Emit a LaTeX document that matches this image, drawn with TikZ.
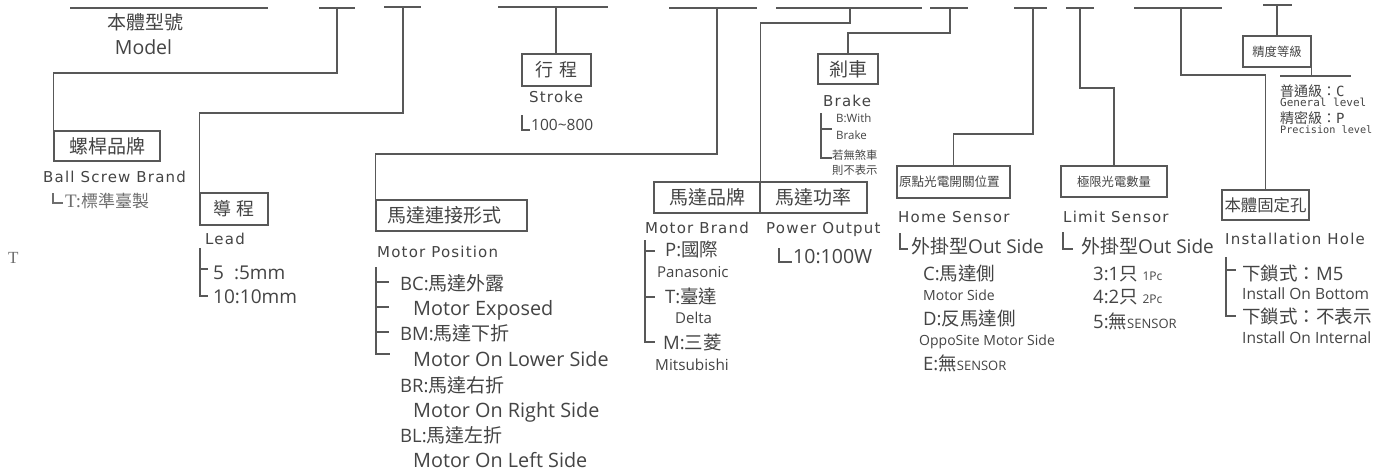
\documentclass[tikz,border=0pt]{standalone}
\usepackage{fontspec}
\setmainfont{Open Sans}
\newfontfamily\cjk{Noto Sans CJK TC}
\newfontfamily\iso[LetterSpace=8]{DejaVu Sans}
\newfontfamily\mono{DejaVu Sans Mono}
\newfontfamily\ser{Liberation Serif}
\newcommand\fs[1]{\fontsize{#1}{#1}\selectfont}
\definecolor{txt}{HTML}{444444}
\definecolor{linec}{HTML}{585858}
\definecolor{lt}{HTML}{6E6E6E}
\begin{document}
\begin{tikzpicture}[x=1pt,y=-1pt,
  ln/.style={draw=linec,line width=1.3pt},
  box/.style={draw=linec,line width=1.3pt,inner sep=0pt,text=txt},
  lbl/.style={inner sep=0pt,anchor=base west,text=txt},
  ctr/.style={inner sep=0pt,anchor=base,text=txt}]
\fill[white] (0,0) rectangle (1386,471);
\useasboundingbox (0,0) rectangle (1386,471);

% ---------- top code line segments ----------
\coordinate (m1) at (70,8);   \coordinate (m2) at (268,8);
\coordinate (a1) at (319,8);  \coordinate (a2) at (355,8);  \coordinate (a0) at (337,8);  \coordinate (ak) at (337,73);
\coordinate (b1) at (384,7);  \coordinate (b2) at (421,7);  \coordinate (b0) at (403,7);  \coordinate (bk) at (403,113);
\coordinate (c1) at (498,7);  \coordinate (c2) at (608,7);  \coordinate (c0) at (556,7);
\coordinate (d1) at (669,8);  \coordinate (d2) at (757,8);  \coordinate (d0) at (717,8);  \coordinate (dk) at (717,154);
\coordinate (e1) at (776,8);  \coordinate (e2) at (922,8);  \coordinate (e0) at (850,8);  \coordinate (ek) at (850,23);
\coordinate (f1) at (930,8);  \coordinate (f2) at (968,8);  \coordinate (f0) at (950,8);  \coordinate (fk) at (950,33);
\coordinate (g1) at (1014,8); \coordinate (g2) at (1047,8); \coordinate (g0) at (1033,8); \coordinate (gk) at (1033,134);
\coordinate (h1) at (1066,8); \coordinate (h2) at (1094,8); \coordinate (h0) at (1080,8); \coordinate (hk) at (1080,88);
\coordinate (i1) at (1134,8); \coordinate (i2) at (1222,8); \coordinate (i0) at (1181,8); \coordinate (ik) at (1181,75);
\coordinate (j1) at (1263,5); \coordinate (j2) at (1292,5); \coordinate (j0) at (1277,5);
\foreach \s in {m,a,b,c,d,e,f,g,h,i,j} \draw[ln] (\s1) -- (\s2);

% ---------- boxes ----------
\node[box,minimum width=106,minimum height=30] (bs) at (107,146) {\cjk\fs{19}螺桿品牌};
\node[box,minimum width=68,minimum height=32] (lead) at (234,209) {\cjk\fs{18}導\hspace{6pt}程};
\node[box,minimum width=69,minimum height=32] (stroke) at (556.5,70) {\cjk\fs{18}行\hspace{6pt}程};
\node[box,minimum width=151,minimum height=31,text width=129,align=left,inner xsep=11] (mpos) at (451.5,215.5) {\cjk\fs{19}馬達連接形式};
\node[box,minimum width=106,minimum height=31] (brand) at (707,197.5) {\cjk\fs{19}馬達品牌};
\node[box,minimum width=107,minimum height=31] (power) at (813.5,197.5) {\cjk\fs{19}馬達功率};
\node[box,minimum width=60,minimum height=30] (brake) at (848,69) {\cjk\fs{19}剎車};
\node[box,minimum width=113,minimum height=32,text width=109,align=left,inner xsep=2] (home) at (953.5,182) {\cjk\fs{12.6}原點光電開關位置};
\node[box,minimum width=106,minimum height=31] (limit) at (1114,181.5) {\cjk\fs{12.3}極限光電數量};
\node[box,minimum width=87,minimum height=30] (inst) at (1265.5,205) {\cjk\fs{16.4}本體固定孔};
\node[box,minimum width=68,minimum height=31] (prec) at (1277,51.5) {\cjk\fs{12.3}精度等級};

% ---------- connectors ----------
\draw[ln] (a0) -- (ak) -| (bs.north west);
\draw[ln] (b0) -- (bk) -| (lead.north west);
\draw[ln] (c0) -- (c0 |- stroke.north);
\draw[ln] (d0) -- (dk) -| (mpos.north west);
\draw[ln] (e0) -- (ek) -| (brand.north east);
\draw[ln] (f0) -- (fk) -| (brake.north);
\draw[ln] (g0) -- (gk) -| (home.north);
\draw[ln] (h0) -- (hk) -| (limit.north);
\draw[ln] (i0) -- (ik) -| (inst.north);
\draw[ln] (j0) -- (j0 |- prec.north);
\coordinate (pl1) at (1280,76); \coordinate (pl2) at (1351,76);
\draw[ln] (prec.south east) -- (prec.south east |- pl1);
\draw[ln] (pl1) -- (pl2);

% ---------- model ----------
\node[ctr] (mzh) at (145.5,29) {\cjk\fs{19}本體型號};
\node[ctr] (men) at (143.5,54) {\fs{19.5}Model};

% ---------- ball screw ----------
\node[lbl] (bsen) at (43,182) {\iso\fs{15}Ball Screw Brand};
\node[lbl,text=lt] (tstd) at (65,207) {\ser\fs{19}T:\cjk\fs{17}標準臺製};
\draw[ln,draw=lt] (53,193) -- (53,203) -- (63,203);
\node[lbl,text=lt] (tl) at (8,263) {\ser\fs{17}T};

% ---------- lead ----------
\node[lbl] (leaden) at (205,244) {\iso\fs{15}Lead};
\node[lbl] (l5) at (213,279) {\fs{19}5\hspace{10pt}:5mm};
\node[lbl] (l10) at (213,303) {\fs{19}10:10mm};
\draw[ln] (200,248) -- (200,296) -- (208,296);
\draw[ln] (200,269) -- (208,269);

% ---------- stroke ----------
\node[lbl] (stren) at (529,102) {\iso\fs{15}Stroke};
\node[lbl] (strv) at (531,130) {\fs{15.5}100\textasciitilde 800};
\draw[ln] (522,115) -- (522,130) -- (530,130);

% ---------- motor position ----------
\node[lbl] (mposen) at (377,257) {\iso\fs{15}Motor Position};
\draw[ln] (376,267) -- (376,354) -- (390,354);
\foreach \yy in {282,307,332} \draw[ln] (376,\yy) -- (389,\yy);
\node[lbl] (bc) at (400,290) {\fs{18.5}BC:\cjk\fs{19}馬達外露};
\node[lbl] (bce) at (413,315) {\fs{19.8}Motor Exposed};
\node[lbl] (bm) at (400,340) {\fs{18.5}BM:\cjk\fs{19}馬達下折};
\node[lbl] (bme) at (413,366) {\fs{19.8}Motor On Lower Side};
\node[lbl] (br) at (400,392) {\fs{18.5}BR:\cjk\fs{19}馬達右折};
\node[lbl] (bre) at (413,417) {\fs{19.8}Motor On Right Side};
\node[lbl] (bl) at (400,442) {\fs{18.5}BL:\cjk\fs{19}馬達左折};
\node[lbl] (ble) at (413,467) {\fs{19.8}Motor On Left Side};

% ---------- motor brand / power ----------
\node[lbl] (branden) at (645,233) {\iso\fs{15}Motor Brand};
\node[lbl] (poweren) at (766,233) {\iso\fs{15}Power Output};
\draw[ln] (645,240) -- (645,342) -- (655,342);
\draw[ln] (645,251) -- (655,251);
\draw[ln] (645,297) -- (655,297);
\node[lbl] (pp) at (665,256) {\fs{18.5}P:\cjk 國際};
\node[lbl] (ppe) at (657,277) {\fs{15}Panasonic};
\node[lbl] (pt) at (665,303) {\fs{18.5}T:\cjk 臺達};
\node[lbl] (pte) at (675,323) {\fs{15}Delta};
\node[lbl] (pm) at (663,349) {\fs{18.5}M:\cjk 三菱};
\node[lbl] (pme) at (655,370) {\fs{15.3}Mitsubishi};
\draw[ln] (779,248) -- (779,262) -- (792,262);
\node[lbl] (pw) at (793,263) {\fs{19.5}10:100W};

% ---------- brake ----------
\node[lbl] (brakeen) at (823,106) {\iso\fs{15}Brake};
\draw[ln] (821,113) -- (821,158) -- (832,158);
\draw[ln] (821,129) -- (832,129);
\node[lbl] (bw1) at (836,122) {\fs{11.5}B:With};
\node[lbl] (bw2) at (836,139) {\fs{11.5}Brake};
\node[lbl] (bn1) at (832,159) {\cjk\fs{11.3}若無煞車};
\node[lbl] (bn2) at (832,174) {\cjk\fs{11.3}則不表示};

% ---------- home sensor ----------
\node[lbl] (homeen) at (898,222) {\iso\fs{15}Home Sensor};
\draw[ln] (900,233) -- (900,249) -- (908,249);
\node[lbl] (hout) at (911,253) {\fs{19}{\cjk 外掛型}Out Side};
\node[lbl] (hc) at (923,280) {\fs{18.5}C:\cjk 馬達側};
\node[lbl] (hce) at (923,300) {\fs{14}Motor Side};
\node[lbl] (hd) at (923,325) {\fs{18.5}D:\cjk 反馬達側};
\node[lbl] (hde) at (919,345) {\fs{14}OppoSite Motor Side};
\node[lbl] (he) at (923,370) {\fs{18.5}E:{\cjk 無}\fs{13}SENSOR};

% ---------- limit sensor ----------
\node[lbl] (limiten) at (1063,222) {\iso\fs{15}Limit Sensor};
\draw[ln] (1063,232) -- (1063,249) -- (1073,249);
\node[lbl] (lout) at (1081,253) {\fs{19}{\cjk 外掛型}Out Side};
\node[lbl] (l3) at (1093,280) {\fs{18.5}3:1{\cjk 只} \fs{12}1Pc};
\node[lbl] (l4) at (1093,303) {\fs{18.5}4:2{\cjk 只} \fs{12}2Pc};
\node[lbl] (l5s) at (1093,328) {\fs{18.5}5:{\cjk 無}\fs{13}SENSOR};

% ---------- installation hole ----------
\node[lbl] (insten) at (1225,244) {\iso\fs{15}Installation Hole};
\draw[ln] (1226,257) -- (1226,316) -- (1236,316);
\draw[ln] (1226,270) -- (1236,270);
\node[lbl] (ib) at (1242,280) {\fs{18.5}{\cjk 下鎖式：}M5};
\node[lbl] (ibe) at (1242,299) {\fs{15.5}Install On Bottom};
\node[lbl] (ii) at (1242,323) {\cjk\fs{18.5}下鎖式：不表示};
\node[lbl] (iie) at (1242,343) {\fs{15.5}Install On Internal};

% ---------- precision ----------
\node[lbl] (pc) at (1280,96) {\cjk\fs{14}普通級：\mono C};
\node[lbl] (pce) at (1280,106) {\mono\fs{11}General level};
\node[lbl] (pp2) at (1280,123) {\cjk\fs{14}精密級：\mono P};
\node[lbl] (ppe2) at (1280,133) {\mono\fs{10.2}Precision level};
\end{tikzpicture}
\end{document}
